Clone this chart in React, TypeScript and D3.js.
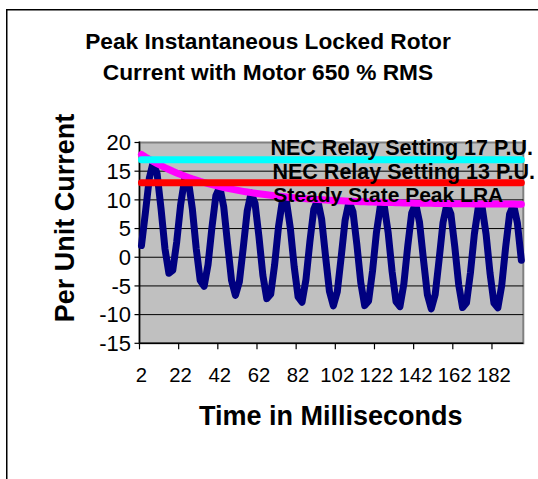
import React from "react";
import * as d3 from "d3";

// Time axis categories (ms)
const TIME_MS = [
  2, 4, 6, 8, 10, 12, 14, 16, 18, 20, 22, 24, 26, 28, 30, 32, 34, 36, 38, 40,
  42, 44, 46, 48, 50, 52, 54, 56, 58, 60, 62, 64, 66, 68, 70, 72, 74, 76, 78, 80,
  82, 84, 86, 88, 90, 92, 94, 96, 98, 100, 102, 104, 106, 108, 110, 112, 114, 116, 118, 120,
  122, 124, 126, 128, 130, 132, 134, 136, 138, 140, 142, 144, 146, 148, 150, 152, 154, 156, 158, 160,
  162, 164, 166, 168, 170, 172, 174, 176, 178, 180, 182, 184, 186, 188, 190, 192, 194, 196,
];

const X_TICK_LABELS = ["2", "22", "42", "62", "82", "102", "122", "142", "162", "182"];
const Y_TICKS = [-15, -10, -5, 0, 5, 10, 15, 20];

// Instantaneous locked rotor current (per unit)
const CURRENT_PU = [
  2.03, 7.72, 13.74, 16.6, 14.55, 8.48, 1.49, -2.8, -2.26, 2.66,
  9.14, 13.51, 13.26, 8.4, 1.42, -4.01, -5.06, -1.27, 5.19, 10.73,
  12.25, 8.83, 2.25, -4.02, -6.64, -4.28, 1.72, 8.04, 11.19, 9.41,
  3.6, -3.14, -7.21, -6.45, -1.31, 5.36, 9.92, 9.85, 5.16, -1.66,
  -6.93, -7.84, -3.91, 2.68, 8.35, 9.99, 6.68, 0.21, -5.96, -8.48,
  -6.03, 0.06, 6.46, 9.69, 7.98, 2.24, -4.43, -8.43, -7.61, -2.42,
  4.32, 8.93, 8.91, 4.26, -2.51, -7.74, -8.61, -4.64, 1.99, 7.69,
  9.36, 6.09, -0.36, -6.49, -8.99, -6.51, -0.4, 6.03, 9.28, 7.59,
  1.87, -4.79, -8.77, -7.93, -2.72, 4.03, 8.65, 8.65, 4.01, -2.75,
  -7.97, -8.82, -4.85, 1.8, 7.51, 9.18, 5.92, -0.52,
];

// Steady state peak LRA envelope (per unit)
const STEADY_STATE_PEAK = [
  17.92, 17.48, 17.07, 16.68, 16.3, 15.95, 15.61, 15.29, 14.98, 14.69,
  14.42, 14.16, 13.91, 13.67, 13.45, 13.23, 13.03, 12.84, 12.66, 12.48,
  12.32, 12.16, 12.02, 11.87, 11.74, 11.61, 11.49, 11.38, 11.27, 11.16,
  11.06, 10.97, 10.88, 10.8, 10.72, 10.64, 10.57, 10.5, 10.43, 10.37,
  10.31, 10.26, 10.2, 10.15, 10.1, 10.06, 10.01, 9.97, 9.93, 9.9,
  9.86, 9.83, 9.8, 9.77, 9.74, 9.71, 9.68, 9.66, 9.64, 9.61,
  9.59, 9.57, 9.55, 9.53, 9.52, 9.5, 9.49, 9.47, 9.46, 9.44,
  9.43, 9.42, 9.41, 9.4, 9.39, 9.38, 9.37, 9.36, 9.35, 9.34,
  9.33, 9.33, 9.32, 9.31, 9.31, 9.3, 9.3, 9.29, 9.29, 9.28,
  9.28, 9.27, 9.27, 9.26, 9.26, 9.26, 9.25, 9.25,
];

const NEC_17 = 17;
const NEC_13 = 13;

const TITLE_LINES = ["Peak Instantaneous Locked Rotor", "Current with Motor 650 % RMS"];
const LABEL_17 = "NEC Relay Setting 17 P.U.";
const LABEL_13 = "NEC Relay Setting 13 P.U.";
const LABEL_SS = "Steady State Peak LRA";

const FONT = "'Liberation Sans', Arial, Helvetica, sans-serif";

export default function App() {
  const W = 538;
  const H = 479;
  const left = 139.5;
  const right = 523.3;
  const top = 142.5;
  const bottom = 343.3;

  const x = d3.scaleBand<number>().domain(TIME_MS).range([left, right]).padding(0);
  const bw = x.bandwidth();
  const cx = (t: number) => (x(t) as number) + bw / 2;
  const y = d3.scaleLinear().domain([-15, 20]).range([bottom, top]);

  const line = d3
    .line<number>()
    .x((_, i) => cx(TIME_MS[i]))
    .y((d) => y(d));

  const first = TIME_MS[0];
  const last = TIME_MS[TIME_MS.length - 1];

  const tickCats = TIME_MS.filter((_, i) => i % 10 === 0);

  return (
    <svg
      width={W}
      height={H}
      style={{ position: "absolute", left: 0, top: 0, background: "#fff" }}
      fontFamily={FONT}
    >
      <rect x={0} y={0} width={W} height={H} fill="#fff" />
      {/* chart border */}
      <rect x={6.75} y={9.75} width={W + 10} height={H + 10} fill="none" stroke="#000" strokeWidth={1.5} />

      {/* title */}
      {TITLE_LINES.map((s, i) => (
        <text
          key={i}
          x={268}
          y={49.3 + i * 30.7}
          textAnchor="middle"
          fontWeight="bold"
          fontSize={22.7}
          fill="#000"
        >
          {s}
        </text>
      ))}

      {/* plot area */}
      <rect x={left} y={top} width={right - left} height={bottom - top} fill="#C0C0C0" stroke="#808080" strokeWidth={2} />

      {/* gridlines */}
      {Y_TICKS.filter((v) => v > -15 && v < 20).map((v) => (
        <line key={v} x1={left} x2={right} y1={y(v)} y2={y(v)} stroke="#000" strokeWidth={1} />
      ))}

      {/* axes */}
      <line x1={left} x2={left} y1={top - 1} y2={bottom} stroke="#000" strokeWidth={1.5} />
      <line x1={left} x2={right} y1={bottom} y2={bottom} stroke="#000" strokeWidth={1.5} />
      {Y_TICKS.map((v) => (
        <g key={v}>
          <line x1={left - 5} x2={left} y1={y(v)} y2={y(v)} stroke="#000" strokeWidth={1.2} />
          <text x={131} y={y(v) + 7.8} textAnchor="end" fontSize={22} fill="#000">
            {v}
          </text>
        </g>
      ))}
      {tickCats.map((t, i) => (
        <g key={t}>
          <line x1={x(t) as number} x2={x(t) as number} y1={bottom} y2={bottom + 6} stroke="#000" strokeWidth={1.2} />
          <text x={cx(t)} y={381.5} textAnchor="middle" fontSize={20.3} fill="#000">
            {X_TICK_LABELS[i]}
          </text>
        </g>
      ))}

      {/* series */}
      <path d={line(CURRENT_PU) || ""} fill="none" stroke="#000080" strokeWidth={7} strokeLinejoin="round" strokeLinecap="round" />
      <path d={line(STEADY_STATE_PEAK) || ""} fill="none" stroke="#FF00FF" strokeWidth={7} strokeLinejoin="round" strokeLinecap="round" />
      <line x1={cx(first)} x2={cx(last)} y1={y(NEC_13)} y2={y(NEC_13)} stroke="#FF0000" strokeWidth={7} strokeLinecap="round" />
      <line x1={cx(first)} x2={cx(last)} y1={y(NEC_17)} y2={y(NEC_17)} stroke="#00FFFF" strokeWidth={7} strokeLinecap="round" />

      {/* series labels */}
      <text x={270.5} y={155} fontWeight="bold" fontSize={21.5} fill="#000">{LABEL_17}</text>
      <text x={272.5} y={178.5} fontWeight="bold" fontSize={21.5} fill="#000">{LABEL_13}</text>
      <text x={273.3} y={201.5} fontWeight="bold" fontSize={21} fill="#000">{LABEL_SS}</text>

      {/* axis titles */}
      <text x={330.8} y={425} textAnchor="middle" fontWeight="bold" fontSize={27} fill="#000">
        Time in Milliseconds
      </text>
      <text
        transform={`translate(73.5, 218) rotate(-90)`}
        textAnchor="middle"
        fontWeight="bold"
        fontSize={27}
        fill="#000"
      >
        Per Unit Current
      </text>
    </svg>
  );
}
